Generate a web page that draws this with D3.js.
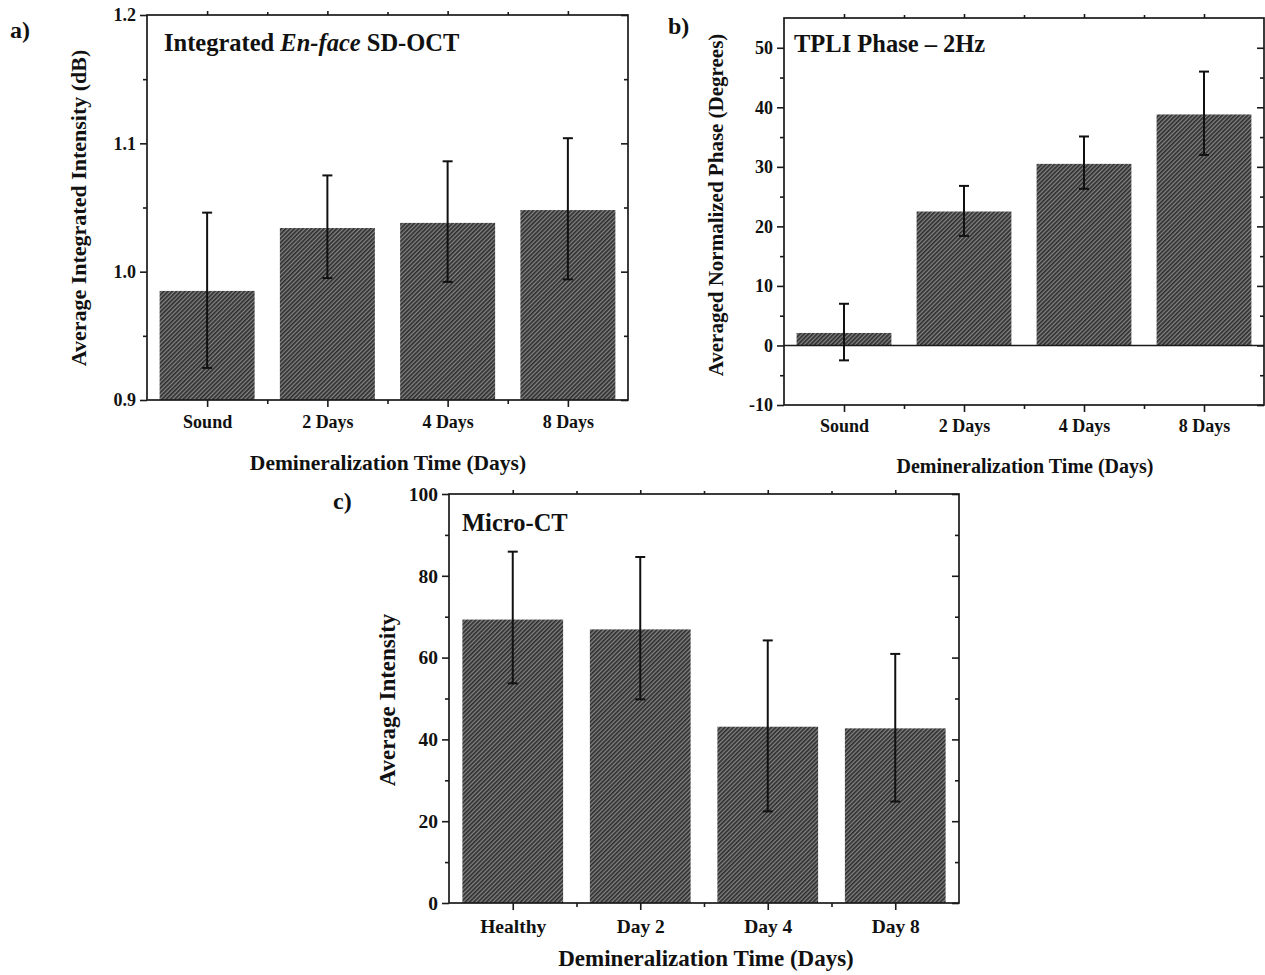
<!DOCTYPE html>
<html>
<head>
<meta charset="utf-8">
<script src="https://cdn.jsdelivr.net/npm/d3@7"></script>
<style>
  body { margin: 0; background: #fff; }
  svg { display: block; }
  text { font-family: 'Liberation Serif', 'Times New Roman', serif; font-weight: bold; fill: #111; }
  .domain { display: none; }
  .tick line { stroke: #1a1a1a; stroke-width: 1.6; }
</style>
</head>
<body>
<svg id="chart" width="1265" height="975"></svg>
<script>
// panel a) Integrated En-face SD-OCT
const catsA = ['Sound', '2 Days', '4 Days', '8 Days']
const meanA = [0.985, 1.034, 1.038, 1.048]
const hiA = [1.046, 1.075, 1.086, 1.104]
const loA = [0.925, 0.995, 0.992, 0.994]
const majorA = [0.9, 1.0, 1.1, 1.2]
const minorA = [0.95, 1.05, 1.15]

// panel b) TPLI Phase - 2Hz
const catsB = ['Sound', '2 Days', '4 Days', '8 Days']
const meanB = [2.1, 22.5, 30.5, 38.8]
const hiB = [7.0, 26.8, 35.1, 46.0]
const loB = [-2.5, 18.4, 26.3, 32.0]
const majorB = [-10, 0, 10, 20, 30, 40, 50]
const minorB = [-5, 5, 15, 25, 35, 45]

// panel c) Micro-CT
const catsC = ['Healthy', 'Day 2', 'Day 4', 'Day 8']
const meanC = [69.3, 66.9, 43.1, 42.7]
const hiC = [85.9, 84.6, 64.2, 60.9]
const loC = [53.7, 49.8, 22.4, 24.8]
const majorC = [0, 20, 40, 60, 80, 100]
const minorC = [10, 30, 50, 70, 90]

const svg = d3.select('#chart')

const defs = svg.append('defs')
const pat = defs.append('pattern')
	.attr('id', 'hatch')
	.attr('patternUnits', 'userSpaceOnUse')
	.attr('width', 3)
	.attr('height', 3)
	.attr('patternTransform', 'rotate(45)')
pat.append('rect').attr('width', 3).attr('height', 3).attr('fill', '#858585')
pat.append('rect').attr('width', 1.7).attr('height', 3).attr('fill', '#2e2e2e')

const plain = d => String(Math.round(d))

const panels = [
	{
		tag: 'a)', tagPos: [10, 38],
		box: { left: 147, right: 628, top: 15, bottom: 400 },
		cats: catsA, mean: meanA, hi: hiA, lo: loA,
		domain: [0.9, 1.2], base: 0.9, major: majorA, minor: minorA, fmt: d3.format('.1f'),
		title: [{ t: 'Integrated ' }, { t: 'En-face', italic: true }, { t: ' SD-OCT' }], titlePos: [164, 51],
		yLabel: 'Average Integrated Intensity (dB)', yLabelPos: [86, 208],
		xTitle: 'Demineralization Time (Days)', xTitlePos: [388, 470],
		tickFont: 18, axisFont: 21.5, yFont: 22, tickGap: 28
	},
	{
		tag: 'b)', tagPos: [668, 34],
		box: { left: 784, right: 1264, top: 18, bottom: 405 },
		cats: catsB, mean: meanB, hi: hiB, lo: loB,
		domain: [-10, 55], base: 0, major: majorB, minor: minorB, fmt: plain,
		title: [{ t: 'TPLI Phase \u2013 2Hz' }], titlePos: [794, 52],
		yLabel: 'Averaged Normalized Phase (Degrees)', yLabelPos: [723, 205],
		xTitle: 'Demineralization Time (Days)', xTitlePos: [1025, 473],
		tickFont: 18, axisFont: 20, yFont: 21, tickGap: 27, zeroLine: true
	},
	{
		tag: 'c)', tagPos: [333, 509],
		box: { left: 449, right: 959, top: 494, bottom: 903 },
		cats: catsC, mean: meanC, hi: hiC, lo: loC,
		domain: [0, 100], base: 0, major: majorC, minor: minorC, fmt: plain,
		title: [{ t: 'Micro-CT' }], titlePos: [462, 531],
		yLabel: 'Average Intensity', yLabelPos: [395, 700],
		xTitle: 'Demineralization Time (Days)', xTitlePos: [706, 966],
		tickFont: 19.5, axisFont: 23, yFont: 23, tickGap: 30
	}
]

panels.forEach(p => {
	const { left, right, top, bottom } = p.box
	const g = svg.append('g')
	const x = d3.scaleLinear().domain([0.5, p.cats.length + 0.5]).range([left, right])
	const y = d3.scaleLinear().domain(p.domain).range([bottom, top])
	const idx = p.cats.map((c, i) => i + 1)
	const bw = (x(2) - x(1)) * 0.79

	// bars
	g.selectAll('rect.bar')
		.data(p.mean)
		.join('rect')
		.attr('class', 'bar')
		.attr('x', (d, i) => x(i + 1) - bw / 2)
		.attr('y', d => y(Math.max(d, p.base)))
		.attr('width', bw)
		.attr('height', d => Math.abs(y(d) - y(p.base)))
		.attr('fill', 'url(#hatch)')

	if (p.zeroLine) {
		g.append('line')
			.attr('x1', left).attr('x2', right)
			.attr('y1', y(0)).attr('y2', y(0))
			.attr('stroke', '#1a1a1a').attr('stroke-width', 1.6)
	}

	// error bars
	const eb = g.selectAll('g.err').data(p.mean).join('g').attr('class', 'err')
		.attr('stroke', '#111').attr('stroke-width', 2)
	eb.append('line')
		.attr('x1', (d, i) => x(i + 1)).attr('x2', (d, i) => x(i + 1))
		.attr('y1', (d, i) => y(p.hi[i])).attr('y2', (d, i) => y(p.lo[i]))
	eb.append('line')
		.attr('x1', (d, i) => x(i + 1) - 5).attr('x2', (d, i) => x(i + 1) + 5)
		.attr('y1', (d, i) => y(p.hi[i])).attr('y2', (d, i) => y(p.hi[i]))
	eb.append('line')
		.attr('x1', (d, i) => x(i + 1) - 5).attr('x2', (d, i) => x(i + 1) + 5)
		.attr('y1', (d, i) => y(p.lo[i])).attr('y2', (d, i) => y(p.lo[i]))

	// axes: left
	g.append('g').attr('transform', `translate(${left},0)`)
		.call(d3.axisLeft(y).tickValues(p.major).tickSize(7).tickPadding(4).tickFormat(p.fmt))
		.selectAll('text').style('font-size', p.tickFont + 'px')
	g.append('g').attr('transform', `translate(${left},0)`)
		.call(d3.axisLeft(y).tickValues(p.minor).tickSize(4).tickFormat(''))
	// right (inward)
	g.append('g').attr('transform', `translate(${right},0)`)
		.call(d3.axisLeft(y).tickValues(p.major).tickSize(7).tickFormat(''))
	g.append('g').attr('transform', `translate(${right},0)`)
		.call(d3.axisLeft(y).tickValues(p.minor).tickSize(4).tickFormat(''))
	// bottom
	g.append('g').attr('transform', `translate(0,${bottom})`)
		.call(d3.axisBottom(x).tickValues(idx).tickSize(7).tickPadding(p.tickGap - 7 - p.tickFont * 0.72).tickFormat(d => p.cats[d - 1]))
		.selectAll('text').style('font-size', p.tickFont + 'px')
	g.append('g').attr('transform', `translate(0,${bottom})`)
		.call(d3.axisBottom(x).tickValues(idx.slice(1).map(d => d - 0.5)).tickSize(4).tickFormat(''))
	// top
	g.append('g').attr('transform', `translate(0,${top})`)
		.call(d3.axisTop(x).tickValues(idx).tickSize(4).tickFormat(''))
	g.append('g').attr('transform', `translate(0,${top})`)
		.call(d3.axisTop(x).tickValues(idx.slice(1).map(d => d - 0.5)).tickSize(3).tickFormat(''))

	// frame
	g.append('rect')
		.attr('x', left).attr('y', top)
		.attr('width', right - left).attr('height', bottom - top)
		.attr('fill', 'none').attr('stroke', '#1a1a1a').attr('stroke-width', 1.7)

	// texts
	g.append('text').attr('x', p.tagPos[0]).attr('y', p.tagPos[1])
		.style('font-size', '24px').text(p.tag)

	const tt = g.append('text').attr('x', p.titlePos[0]).attr('y', p.titlePos[1])
		.style('font-size', '24.5px')
	p.title.forEach(s => {
		tt.append('tspan').style('font-style', s.italic ? 'italic' : 'normal').text(s.t)
	})

	g.append('text')
		.attr('transform', `translate(${p.yLabelPos[0]},${p.yLabelPos[1]}) rotate(-90)`)
		.attr('text-anchor', 'middle')
		.style('font-size', p.yFont + 'px')
		.text(p.yLabel)

	g.append('text')
		.attr('x', p.xTitlePos[0]).attr('y', p.xTitlePos[1])
		.attr('text-anchor', 'middle')
		.style('font-size', p.axisFont + 'px')
		.text(p.xTitle)
})
</script>
</body>
</html>
